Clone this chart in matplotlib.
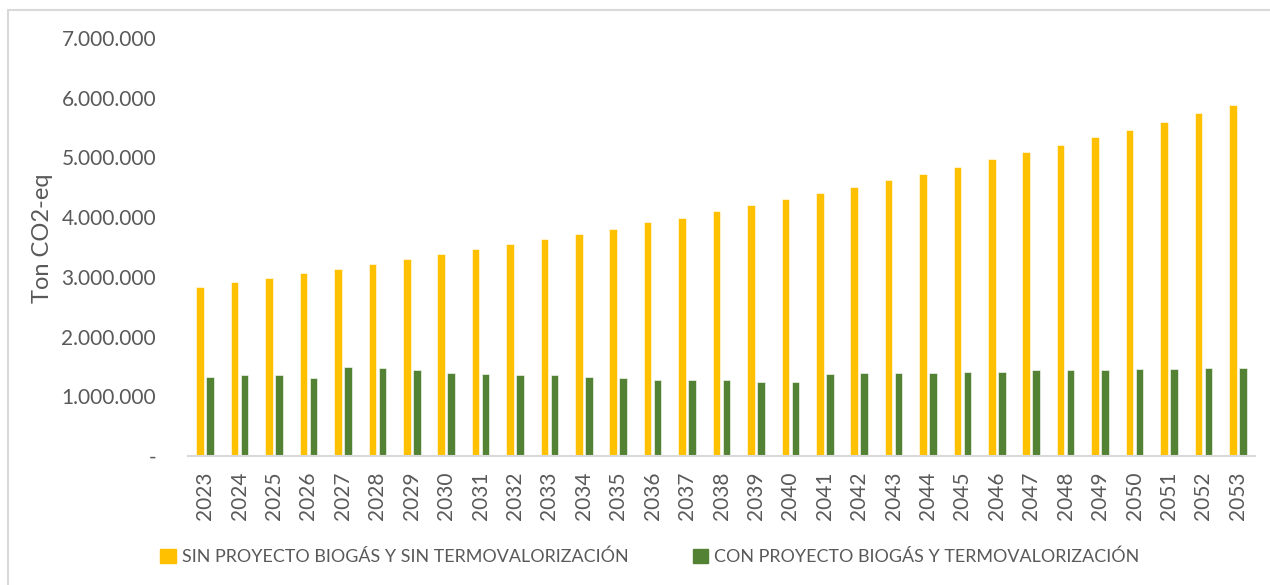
import matplotlib
matplotlib.use("Agg")
import matplotlib.pyplot as plt
import numpy as np
from matplotlib.ticker import FuncFormatter
from matplotlib.lines import Line2D

years = [str(y) for y in range(2023, 2054)]
sin_proyecto = [2830000, 2910000, 2980000, 3060000, 3130000, 3220000, 3300000, 3380000,
                3470000, 3550000, 3630000, 3720000, 3800000, 3920000, 3990000, 4100000,
                4200000, 4300000, 4400000, 4500000, 4620000, 4720000, 4840000, 4970000,
                5090000, 5210000, 5340000, 5460000, 5600000, 5740000, 5880000]
con_proyecto = [1330000, 1350000, 1350000, 1310000, 1490000, 1470000, 1440000, 1390000,
                1370000, 1350000, 1350000, 1330000, 1310000, 1280000, 1280000, 1270000,
                1240000, 1240000, 1370000, 1390000, 1390000, 1390000, 1410000, 1410000,
                1440000, 1440000, 1440000, 1460000, 1460000, 1470000, 1470000]
label_sin = "SIN PROYECTO BIOGÁS Y SIN TERMOVALORIZACIÓN"
label_con = "CON PROYECTO BIOGÁS Y TERMOVALORIZACIÓN"
y_ticks = [0, 1000000, 2000000, 3000000, 4000000, 5000000, 6000000, 7000000]

YELLOW = "#FFC000"
GREEN = "#548235"
TXT = "#595959"

plt.rcParams['font.family'] = ['Lato', 'DejaVu Sans']

fig = plt.figure(figsize=(12.7, 5.85), dpi=100)
ax = fig.add_axes([188/1270, 1-456/585, (1255-188)/1270, (456-38)/585])

x = np.arange(len(years))
w = 0.22
off = 0.145
ax.bar(x - off, sin_proyecto, width=w, color=YELLOW, edgecolor="white", linewidth=0.4, label=label_sin)
ax.bar(x + off, con_proyecto, width=w, color=GREEN, edgecolor="white", linewidth=0.4, label=label_con)

ax.set_xlim(-0.5, len(years) - 0.5)
ax.set_ylim(0, 7000000)
ax.set_yticks(y_ticks)
def fmt(v, pos):
    if v == 0:
        return "-"
    return f"{int(v):,}".replace(",", ".")
ax.yaxis.set_major_formatter(FuncFormatter(fmt))
ax.set_xticks(x)
ax.set_xticklabels(years, rotation=90)

for s in ["top", "right", "left"]:
    ax.spines[s].set_visible(False)
ax.spines["bottom"].set_color("#D9D9D9")
ax.spines["bottom"].set_linewidth(1.5)
ax.tick_params(axis="both", length=0, colors=TXT, labelsize=15)
ax.tick_params(axis="y", pad=23)
ax.tick_params(axis="x", pad=11)

ax.set_ylabel("Ton CO2-eq", color=TXT, fontsize=17)
ax.yaxis.set_label_coords((53 - 188) / (1255 - 188), (456 - 238) / (456 - 38))

handles = [plt.Rectangle((0, 0), 1, 1, color=YELLOW), plt.Rectangle((0, 0), 1, 1, color=GREEN)]
leg = fig.legend(handles, [label_sin, label_con], loc="center", ncol=2,
                 bbox_to_anchor=(650/1270, 1-557/585), frameon=False,
                 fontsize=12.9, handlelength=0.85, handleheight=0.85, handletextpad=0.35,
                 columnspacing=3.6, labelcolor=TXT)

# chart border (left & top visible)
fig.add_artist(Line2D([8/1270, 8/1270], [0, 1-10/585], color="#D9D9D9", lw=1.5))
fig.add_artist(Line2D([8/1270, 1], [1-10/585, 1-10/585], color="#D9D9D9", lw=1.5))

fig.savefig("out.png", dpi=100, facecolor="white")
